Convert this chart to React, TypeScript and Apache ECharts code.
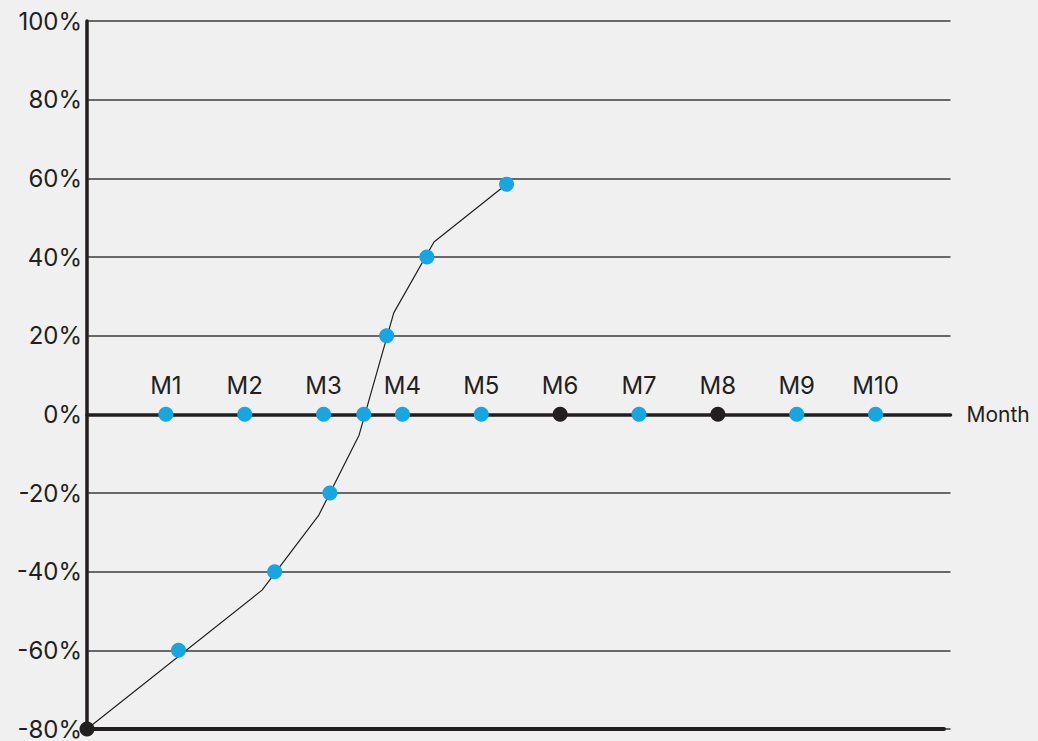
import React, { useEffect, useRef } from "react";
import * as echarts from "echarts";

const months = ["M1", "M2", "M3", "M4", "M5", "M6", "M7", "M8", "M9", "M10"];
const blueMonths = [1, 2, 3, 4, 5, 7, 9, 10];
const darkMonths = [6, 8];
const yTicks = [-80, -60, -40, -20, 0, 20, 40, 60, 80, 100];

// curve (polyline vertices): month position, percent
const curveX = [0, 2.22, 2.94, 3.45, 3.89, 4.4, 5.32];
const curveY = [-80, -44.7, -25.6, -5.3, 25.8, 43.8, 58.5];

// markers lying on the curve
const markerX = [1.16, 2.38, 3.08, 3.51, 3.8, 4.31, 5.32];
const markerY = [-60, -40, -20, 0, 20, 40, 58.5];

const origin = [0, -80];

const DARK = "#231f20";
const BLUE = "#16a6e1";
const FONT = "Inter";

export default function App() {
  const ref = useRef<HTMLDivElement>(null);
  useEffect(() => {
    if (!ref.current) return;
    const chart = echarts.init(ref.current, null, { renderer: "svg" });
    const yMin = yTicks[0];
    const yMax = yTicks[yTicks.length - 1];
    const monthLabel = {
      show: true,
      position: "top",
      distance: 9,
      color: DARK,
      fontSize: 24,
      fontFamily: FONT,
      formatter: (p: any) => months[p.value[0] - 1] ?? "",
    };
    chart.setOption({
      animation: false,
      backgroundColor: "#f0f0f0",
      grid: [
        { left: 87, right: 87.5, top: 21, bottom: 12 },
        { left: 87, right: 94, top: 21, bottom: 12 },
      ],
      xAxis: [
        {
          type: "value",
          gridIndex: 0,
          min: 0,
          max: 10.95,
          interval: 1,
          axisLine: { show: true, onZero: true, lineStyle: { color: DARK, width: 3.5 } },
          axisTick: { show: false },
          splitLine: { show: false },
          axisLabel: { show: false },
          name: "Month",
          nameLocation: "end",
          nameGap: 16,
          nameTextStyle: { color: DARK, fontSize: 21, fontFamily: FONT, padding: [6, 0, 0, 0] },
        },
        {
          type: "value",
          gridIndex: 1,
          min: 0,
          max: 10,
          position: "bottom",
          axisLine: { show: true, onZero: false, lineStyle: { color: DARK, width: 4 } },
          axisTick: { show: false },
          axisLabel: { show: false },
          splitLine: { show: false },
        },
      ],
      yAxis: [
        {
          type: "value",
          gridIndex: 0,
          min: yMin,
          max: yMax,
          interval: 20,
          axisLine: { show: true, onZero: false, lineStyle: { color: DARK, width: 3.5 } },
          axisTick: { show: false },
          splitLine: { show: true, lineStyle: { color: "#3c3c3c", width: 1.5 } },
          axisLabel: {
            color: DARK,
            fontSize: 24,
            fontFamily: FONT,
            margin: 5,
            formatter: (v: number) => `${v}%`,
          },
        },
        {
          type: "value",
          gridIndex: 1,
          min: yMin,
          max: yMax,
          show: false,
        },
      ],
      series: [
        {
          type: "line",
          xAxisIndex: 0,
          yAxisIndex: 0,
          data: curveX.map((x, i) => [x, curveY[i]]),
          symbol: "none",
          lineStyle: { color: DARK, width: 1.2 },
          z: 3,
        },
        {
          type: "scatter",
          data: blueMonths.map((m) => [m, 0]),
          symbolSize: 15,
          itemStyle: { color: BLUE, opacity: 1 },
          label: monthLabel,
          z: 4,
        },
        {
          type: "scatter",
          data: darkMonths.map((m) => [m, 0]),
          symbolSize: 15,
          itemStyle: { color: DARK, opacity: 1 },
          label: monthLabel,
          z: 4,
        },
        {
          type: "scatter",
          data: markerX.map((x, i) => [x, markerY[i]]),
          symbolSize: 15,
          itemStyle: { color: BLUE, opacity: 1 },
          z: 5,
        },
        {
          type: "scatter",
          data: [origin],
          symbolSize: 15,
          itemStyle: { color: DARK, opacity: 1 },
          z: 5,
        },
      ],
    });
    return () => chart.dispose();
  }, []);
  return (
    <div
      ref={ref}
      style={{ position: "fixed", left: 0, top: 0, width: 1038, height: 741, background: "#f0f0f0" }}
    />
  );
}
